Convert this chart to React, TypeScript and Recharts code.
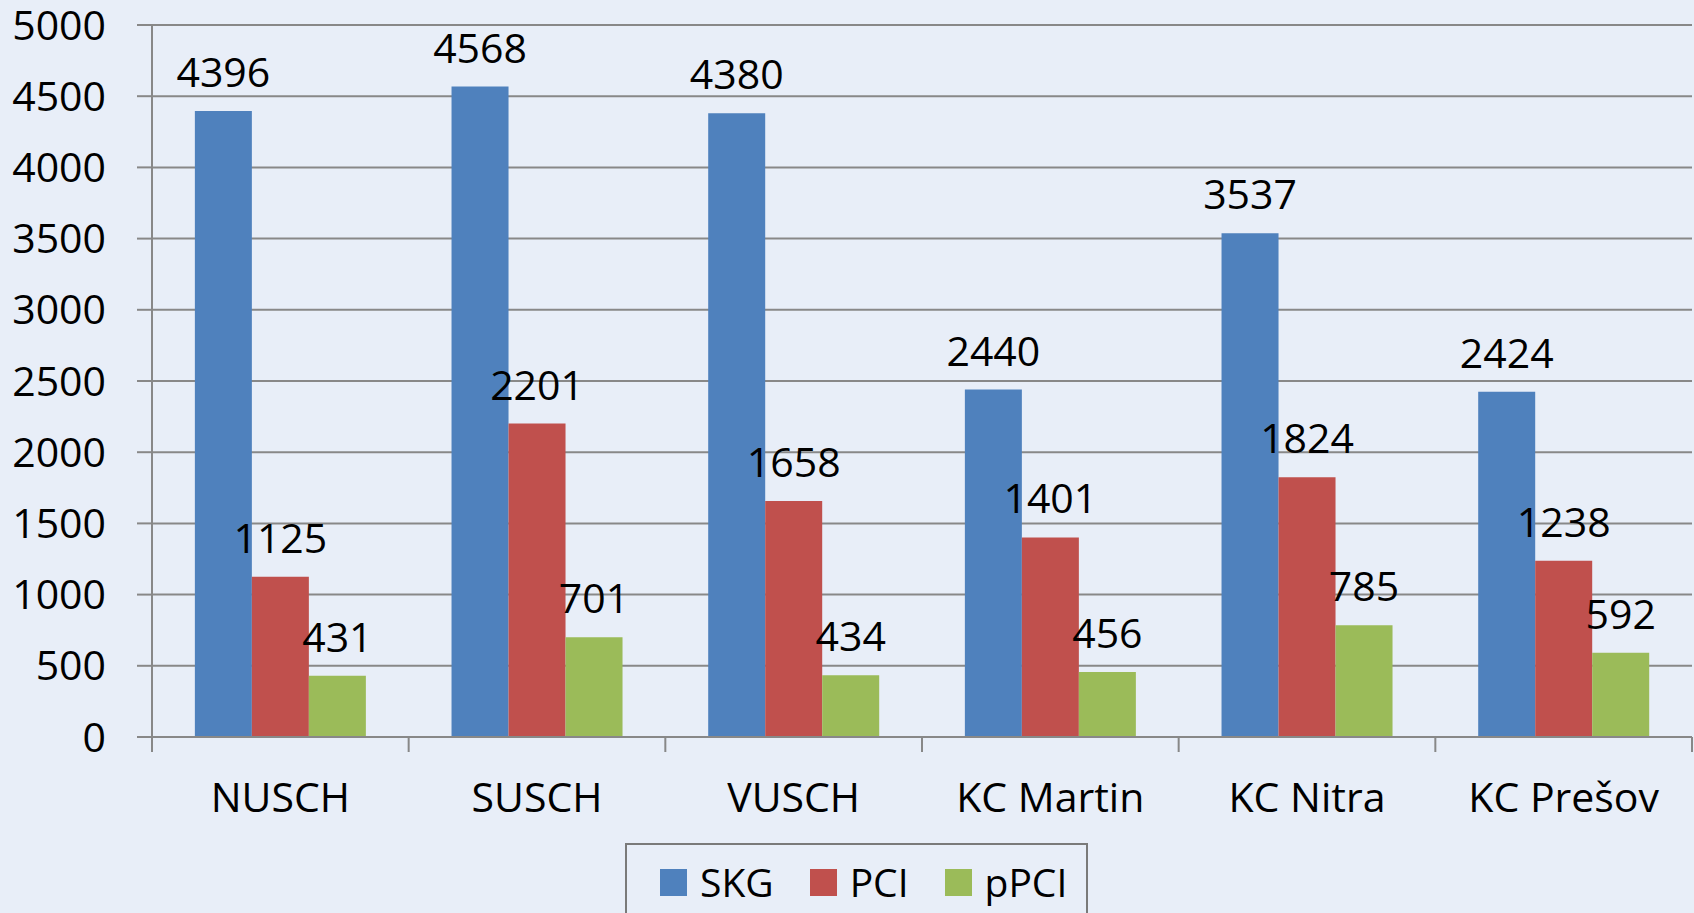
import React from 'react'
import { BarChart, Bar, XAxis, YAxis, CartesianGrid, LabelList } from 'recharts'

const categories = ['NUSCH', 'SUSCH', 'VUSCH', 'KC Martin', 'KC Nitra', 'KC Prešov']
const skg = [4396, 4568, 4380, 2440, 3537, 2424]
const pci = [1125, 2201, 1658, 1401, 1824, 1238]
const ppci = [431, 701, 434, 456, 785, 592]
const yTicks = [0, 500, 1000, 1500, 2000, 2500, 3000, 3500, 4000, 4500, 5000]

const series = [
  { key: 'skg', name: 'SKG', color: '#4F81BD' },
  { key: 'pci', name: 'PCI', color: '#C0504D' },
  { key: 'ppci', name: 'pPCI', color: '#9BBB59' },
]

const data = categories.map((name, i) => ({ name, skg: skg[i], pci: pci[i], ppci: ppci[i] }))

const FONT = '"Open Sans", sans-serif'
const AXIS = '#888888'
const TICK_SIZE = 15
const X_MARGIN = 31

if (typeof document !== 'undefined') document.body.style.margin = '0'

// category labels, with tick marks on the band edges like Excel
const CategoryTick = (props: any) => {
  const { x, y, payload, index, visibleTicksCount } = props
  const half = payload?.offset ?? 0
  const top = y - X_MARGIN - TICK_SIZE
  const bottom = y - X_MARGIN
  return (
    <g>
      <line x1={x - half} x2={x - half} y1={top} y2={bottom} stroke={AXIS} strokeWidth={2} />
      {index === visibleTicksCount - 1 && (
        <line x1={x + half} x2={x + half} y1={top} y2={bottom} stroke={AXIS} strokeWidth={2} />
      )}
      <text x={x} y={y} dy="0.71em" textAnchor="middle" fill="#000" fontSize={41} fontFamily={FONT}>
        {payload.value}
      </text>
    </g>
  )
}

export default function App() {
  return (
    <div style={{ position: 'relative', width: 1694, height: 913, background: '#E8EEF8', overflow: 'hidden' }}>
      <BarChart
        width={1694}
        height={913}
        data={data}
        margin={{ top: 25, right: 2, bottom: 0, left: 0 }}
        barCategoryGap="16.7%"
        barGap={0}
      >
        <CartesianGrid vertical={false} stroke={AXIS} strokeWidth={2} />
        <XAxis
          dataKey="name"
          height={176}
          stroke={AXIS}
          strokeWidth={2}
          tickLine={false}
          tickSize={TICK_SIZE}
          tickMargin={X_MARGIN}
          tick={<CategoryTick />}
          interval={0}
        />
        <YAxis
          width={152}
          domain={[0, 5000]}
          ticks={yTicks}
          interval={0}
          stroke={AXIS}
          strokeWidth={2}
          tickSize={TICK_SIZE}
          tickMargin={31}
          tick={{ fill: '#000', fontSize: 41, fontFamily: FONT }}
        />
        {series.map((s) => (
          <Bar key={s.key} dataKey={s.key} name={s.name} fill={s.color} isAnimationActive={false}>
            <LabelList dataKey={s.key} position="top" offset={24} fill="#000" fontSize={41} fontFamily={FONT} />
          </Bar>
        ))}
      </BarChart>
      <div
        style={{
          position: 'absolute',
          left: 625,
          top: 843,
          width: 463,
          height: 100,
          boxSizing: 'border-box',
          border: '2px solid #7a7a7a',
          display: 'flex',
          alignItems: 'flex-start',
          paddingLeft: 33,
          paddingTop: 22,
          fontFamily: FONT,
          fontSize: 39,
          lineHeight: '30px',
          color: '#000',
        }}
      >
        {series.map((s) => (
          <div key={s.key} style={{ display: 'flex', alignItems: 'center', marginRight: 36 }}>
            <span style={{ display: 'inline-block', width: 27, height: 27, background: s.color, marginRight: 13 }} />
            <span>{s.name}</span>
          </div>
        ))}
      </div>
    </div>
  )
}
